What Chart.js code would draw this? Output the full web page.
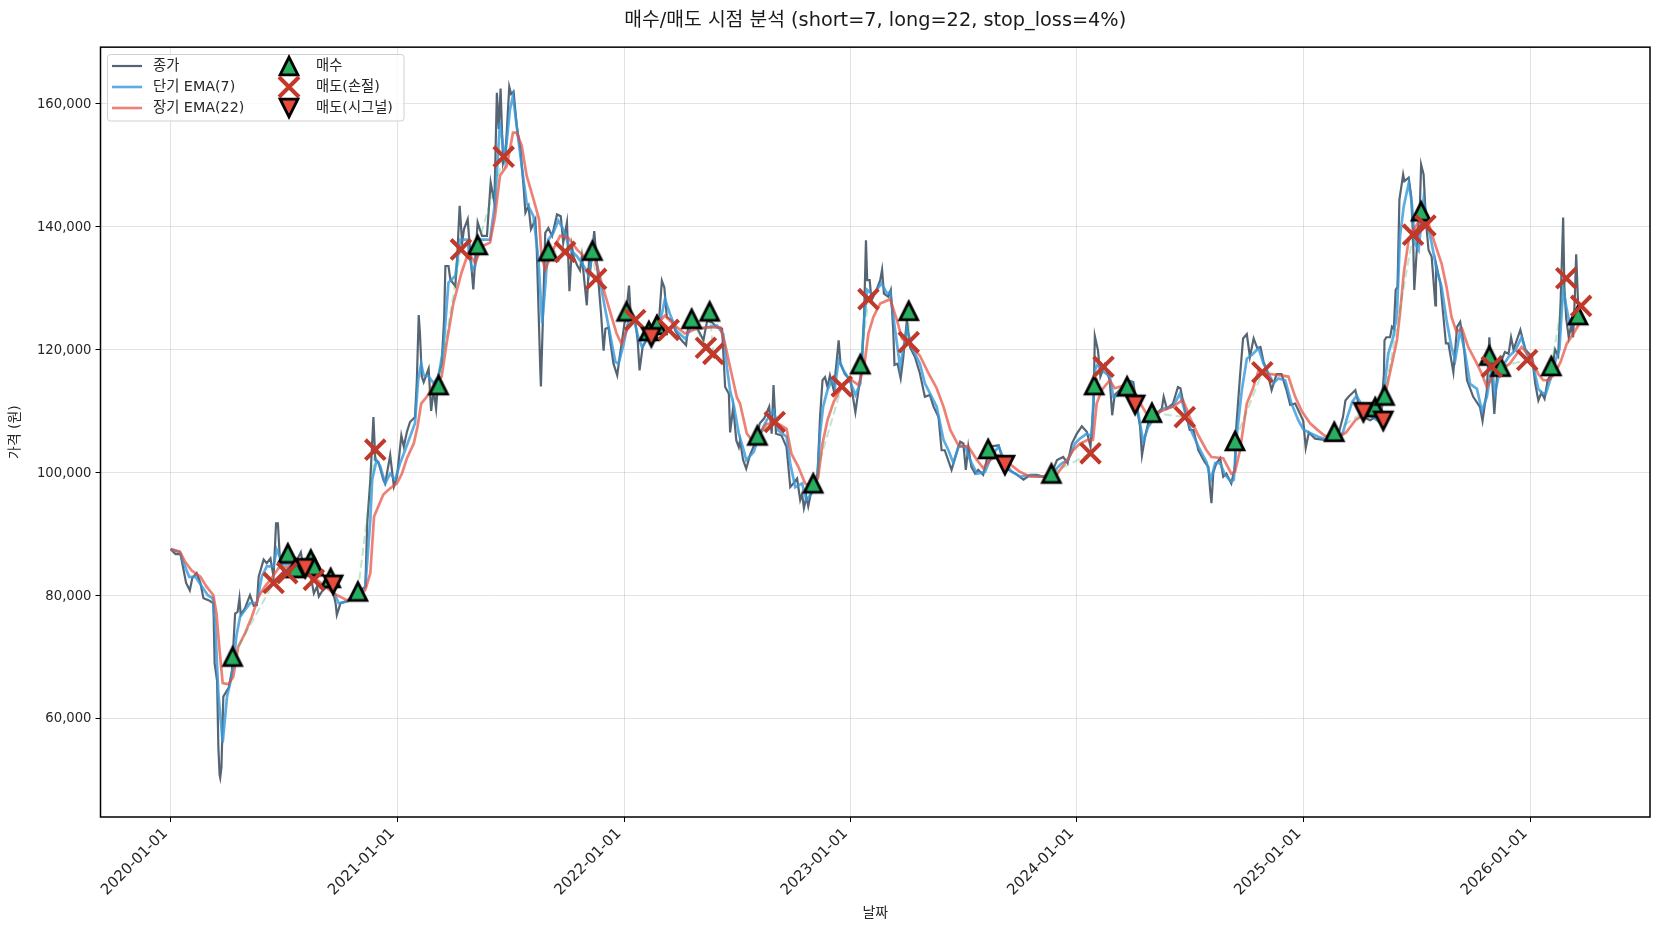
<!DOCTYPE html>
<html lang="ko">
<head>
<meta charset="utf-8">
<title>매수/매도 시점 분석</title>
<style>html,body{margin:0;padding:0;background:#fff}canvas{display:block}</style>
<script src="https://cdn.jsdelivr.net/npm/chart.js@4/dist/chart.umd.min.js"></script>
</head>
<body>
<canvas id="c" width="1660" height="930"></canvas>
<script>
// x values: days since 2020-01-01
const xTickDays = [0, 366, 731, 1096, 1461, 1827, 2192];
const xTickLabels = ['2020-01-01','2021-01-01','2022-01-01','2023-01-01','2024-01-01','2025-01-01','2026-01-01'];
const yTicks = [60000, 80000, 100000, 120000, 140000, 160000];

const closeDays = [
0,8,16,20,25,31,35,42,48,53,61,69,71,75,77,79,80,82,85,94,99,104,108,111,113,120,128,134,139,142,150,155,161,166,170,173,176,182,193,204,210,215,225,231,236,239,244,252,260,266,268,274,284,300,314,317,322,327,330,335,343,346,354,360,365,372,376,381,386,394,397,400,402,405,408,416,420,424,428,432,437,441,443,448,451,459,462,466,470,473,479,483,488,495,502,510,516,522,526,529,532,536,540,546,549,553,558,564,569,572,577,581,588,590,596,597,600,604,609,615,623,629,633,639,643,647,650,656,660,663,671,675,677,683,690,694,698,701,706,709,714,720,724,730,736,739,742,749,753,756,761,767,776,787,792,796,800,808,814,822,831,835,843,851,859,865,873,881,889,894,900,902,907,912,916,918,923,928,934,942,950,957,965,969,972,976,985,993,999,1004,1010,1015,1018,1021,1025,1028,1033,1043,1047,1051,1055,1059,1063,1069,1074,1077,1080,1087,1096,1100,1104,1109,1114,1118,1121,1123,1127,1130,1138,1144,1147,1150,1157,1161,1165,1167,1172,1177,1181,1187,1192,1200,1208,1216,1224,1230,1238,1243,1248,1259,1265,1273,1278,1282,1286,1291,1297,1302,1310,1321,1335,1343,1351,1362,1375,1386,1396,1407,1418,1429,1439,1446,1453,1461,1469,1477,1483,1488,1490,1495,1499,1506,1514,1518,1522,1530,1541,1552,1557,1563,1566,1571,1576,1587,1598,1601,1606,1616,1624,1628,1635,1643,1649,1657,1667,1673,1676,1678,1681,1686,1692,1697,1702,1710,1716,1718,1724,1729,1735,1740,1746,1752,1757,1762,1768,1775,1783,1791,1799,1805,1813,1826,1830,1835,1845,1860,1880,1890,1894,1899,1904,1910,1915,1923,1934,1942,1950,1956,1957,1960,1966,1969,1972,1975,1978,1981,1985,1987,1989,1996,2000,2003,2005,2009,2014,2016,2020,2024,2028,2033,2039,2040,2047,2052,2056,2060,2068,2074,2079,2084,2090,2100,2111,2115,2122,2126,2130,2134,2139,2151,2157,2161,2165,2176,2184,2195,2200,2205,2210,2215,2220,2226,2232,2237,2241,2245,2247,2250,2254,2258,2261,2264,2266,2270];
const closePrices = [
87500,86700,86700,84600,82000,80800,82800,83600,82000,79500,79200,78700,68900,66000,55300,50800,50300,52000,63500,65000,67800,77000,77300,79500,76800,77900,80000,78300,78400,83000,85800,85200,86000,83000,91700,91700,86300,83600,84700,85800,87000,83900,83600,80300,81400,79800,80600,81400,81400,78700,76800,78700,79000,80300,81400,91700,98800,109000,102000,101700,98800,98200,102800,97700,99300,106000,104200,106600,108200,109000,115000,125600,122600,115600,114700,116900,110000,113400,110400,116000,117700,125000,133600,133600,131400,130300,135000,143400,137400,139600,141200,135800,129800,140700,138500,138500,147200,143900,161800,155900,162500,150400,152000,162800,161600,162000,156400,152600,146600,142300,143400,139600,141200,137400,116700,114000,124300,139000,139800,138500,142000,141700,137400,140700,129500,136800,135000,133600,132900,135200,127200,135200,133400,139300,130700,125800,119800,123400,123600,121200,117700,115800,118800,123000,127400,130400,125300,124700,121500,116600,120400,121500,122600,124200,131200,130100,125300,124700,123000,121700,120700,124200,124700,123100,121500,124700,124400,123600,123400,113900,112800,106500,110600,105200,104100,105200,102000,100600,102800,104700,108000,108800,110700,106300,114200,106300,106000,104100,97600,98200,99000,95500,96500,94200,96000,94500,97000,99800,109000,115000,115500,113900,115800,113400,118300,121500,117700,116000,115000,112300,109800,113400,116600,125300,137800,131300,131300,128000,129700,131300,133000,129100,128600,129700,123200,117500,117700,115300,118500,124800,120400,118800,116100,112300,112600,110700,109000,103600,103600,100400,102500,105000,104700,100400,104200,100900,99800,100400,99600,104200,104400,101500,100400,99800,98800,99600,99600,99300,99300,102000,102500,101500,104700,106300,107500,106600,104200,111200,122200,119900,115600,117500,115000,109300,112600,113400,115000,114700,111200,107400,102800,105800,108000,109300,110400,112300,110400,111200,113900,113700,110100,106900,106900,103600,101700,100900,97000,95000,100000,101500,102300,99300,99800,98200,100900,107400,115600,121800,122500,118800,121800,120200,120400,118000,116400,113400,116000,116000,113400,111000,111200,108400,104000,106500,105500,105300,105200,109000,111700,112300,112800,113400,111200,109000,108500,109000,108000,116000,121500,122000,122000,123700,123400,129700,130200,144400,147100,148500,147400,148000,145000,138400,129700,136200,143300,150100,148500,140600,136200,135100,127200,134000,130800,125300,121000,121000,116300,123700,124500,121500,115000,112300,110600,108400,113400,122000,116000,109500,116600,119600,119300,122000,120000,123200,120000,118800,114400,111700,113000,112000,115000,116000,120000,119000,128000,141500,130000,125000,122000,124000,122000,129000,135500,125000];

const shortDays = [
0,15,20,30,40,50,60,68,72,77,84,91,96,101,106,112,120,128,139,147,155,166,171,182,203,214,225,236,252,263,271,284,300,314,322,325,332,338,346,354,362,370,378,386,394,399,404,408,416,424,432,440,448,459,467,478,486,491,499,515,523,531,539,547,552,558,566,574,585,593,599,604,609,617,625,633,644,655,666,674,682,690,698,706,717,722,730,738,746,754,760,770,784,792,797,805,816,830,840,854,865,881,891,897,902,908,916,924,928,940,950,961,972,980,993,999,1007,1018,1025,1033,1043,1047,1052,1059,1066,1071,1077,1085,1095,1104,1112,1118,1123,1133,1146,1155,1160,1168,1176,1187,1197,1208,1216,1227,1235,1246,1254,1262,1270,1281,1289,1300,1313,1324,1335,1345,1356,1370,1386,1407,1423,1437,1447,1458,1466,1477,1485,1490,1495,1504,1514,1520,1528,1538,1549,1560,1568,1576,1587,1600,1616,1627,1638,1646,1657,1670,1677,1684,1692,1700,1710,1714,1718,1727,1735,1743,1754,1762,1770,1778,1786,1797,1807,1818,1826,1835,1850,1865,1880,1890,1897,1905,1912,1920,1930,1945,1952,1958,1963,1971,1977,1982,1988,1996,2001,2006,2012,2020,2025,2033,2041,2049,2057,2065,2071,2079,2087,2095,2106,2114,2122,2130,2135,2143,2157,2168,2178,2186,2197,2205,2210,2217,2224,2232,2239,2245,2250,2256,2262,2270];
const shortPrices = [
87500,87000,85500,83000,83000,81500,80000,79500,75000,64000,56000,63500,65700,68400,73300,76500,77600,78700,78700,83000,84700,84700,87400,85000,85200,85000,84000,82000,81400,80600,78700,79000,79800,81400,92300,98800,102000,101000,98200,99800,98800,101500,103600,105800,108000,115000,117700,115800,115600,114500,115600,120400,130900,132000,137900,137900,133000,133600,137900,137900,143900,157000,151000,159000,161300,156400,149900,143900,141700,134700,124300,130300,137900,139000,141000,139600,136300,135200,133600,132000,136800,132500,128000,123800,118000,117700,120700,124700,125300,122000,120400,122000,123100,125800,128200,125800,123000,121700,123900,123400,123600,123900,122500,117000,113300,110900,106300,103600,102000,103300,106300,108500,110100,106800,105800,101400,97600,98200,95500,96500,99200,106300,110700,113400,115000,113900,118300,116600,115000,112600,114500,124800,129700,128900,130800,129100,129400,123200,117200,123400,119900,117700,114500,112300,110700,105300,103600,101500,104200,104200,102000,99800,100100,102800,104200,101700,100100,99300,99500,99300,100100,101500,102000,104700,105500,106300,105800,116600,117700,116400,115600,112300,112600,113700,114700,109600,105000,107400,109000,110400,110700,112800,109000,106600,104200,101700,98800,101500,101500,99600,98500,98800,105300,113400,118500,119100,120200,117700,116100,114500,115300,115000,111200,108500,107000,106500,105800,105300,105200,106500,109000,111500,112500,111000,109500,108500,110000,115000,119300,122000,125900,138400,143300,147100,143900,137300,136200,144400,141100,137300,133000,130200,124800,120400,118300,123200,119300,114400,113600,110000,112300,117200,112800,116600,118800,119900,122000,119300,117200,113600,113000,112800,115000,118000,120000,130000,127000,124000,124000,127000];

const longDays = [
0,15,23,34,48,58,69,74,79,84,93,101,109,120,131,142,152,163,174,193,214,236,263,284,300,314,322,328,335,343,354,365,373,381,392,398,404,413,426,437,445,456,469,480,491,502,515,523,531,542,552,558,566,574,585,594,598,604,617,628,641,655,671,684,698,711,719,727,735,749,762,781,797,813,829,848,867,886,894,902,913,918,929,940,961,980,993,1001,1012,1023,1036,1044,1051,1059,1069,1085,1098,1109,1118,1125,1133,1144,1160,1171,1179,1192,1208,1222,1235,1246,1257,1270,1286,1300,1310,1321,1335,1351,1369,1386,1407,1426,1442,1455,1466,1479,1487,1493,1501,1514,1522,1538,1557,1573,1595,1616,1632,1643,1657,1670,1678,1697,1710,1716,1724,1735,1745,1754,1767,1789,1802,1813,1824,1837,1848,1860,1880,1895,1910,1925,1945,1950,1961,1969,1977,1982,1988,1996,2004,2014,2028,2038,2049,2057,2065,2073,2082,2092,2106,2114,2122,2133,2143,2159,2178,2192,2205,2213,2222,2231,2241,2251,2261,2270];
const longPrices = [
87500,87100,85500,84000,83000,81400,80000,77000,71000,65700,65500,66700,71600,73800,76500,79800,81400,82800,84400,84700,84400,82500,80300,79200,79500,80900,83600,92800,94500,96400,97400,98200,99800,102300,104700,107400,111200,112300,114500,115600,121000,127600,132500,135800,134100,136800,137400,141700,148300,149900,155300,155300,153200,148300,144500,141200,135200,133000,136300,138500,138200,136300,134700,134700,129800,125300,122600,120900,123100,125000,123400,123900,125500,123900,122600,123400,123600,123600,120900,117100,112200,111200,106300,104900,107900,107900,107100,103000,100900,98200,97600,99200,104700,108500,111500,114500,115000,114200,117200,122600,125300,127500,128200,124800,121800,120700,119000,116100,113700,110700,106900,104400,104200,102000,100700,102000,102800,101500,100100,99300,99300,99300,101500,103600,104700,105300,105300,111200,113400,115000,113700,114200,112300,109600,109900,110700,111800,109000,106000,103600,102500,102300,99800,100100,103600,111200,113700,116600,116100,115800,115600,112300,109900,108000,107000,106000,105500,106500,108500,109500,110000,110000,114000,117700,121500,125900,132400,137900,139500,141100,140600,137300,134000,130200,125300,122900,123400,120400,117700,116000,113900,116000,116600,117700,120400,118800,116000,115000,115000,116000,118000,121000,122500,124000];

const buyDays = [100,189,201,226,231,258,302,432,495,609,680,735,771,784,840,869,946,1036,1112,1190,1318,1420,1489,1542,1582,1716,1876,1942,1957,2016,2126,2144,2226,2269];
const buyPrices = [70000,86800,84400,85800,84700,82800,80600,114200,137000,136000,136100,126200,123000,124000,125000,126200,106000,98200,117600,126300,103800,99800,114200,114000,109700,105100,106600,110600,112500,142500,119000,117200,117300,125600];
const stopDays = [166,188,231,330,468,537,636,686,749,803,863,875,974,1082,1125,1190,1483,1504,1635,1760,2003,2023,2130,2187,2250,2274];
const stopPrices = [82000,83600,82500,103700,136300,151400,135900,131500,124800,123200,120300,119300,108200,114000,128200,121200,103100,117200,109000,116300,138700,140200,117200,118300,131600,127100];
const signalDays = [217,262,775,1345,1555,1923,1955];
const signalPrices = [84400,81700,122000,101200,111000,109800,108400];

// holding periods: entry day -> exit day
const holdFrom = [100,189,226,258,302,432,495,609,680,735,771,784,840,869,946,1036,1112,1190,1318,1420,1489,1542,1582,1716,1876,1942,1957,2016,2126,2144,2226,2269];
const holdTo   = [166,217,231,262,330,468,537,636,686,749,775,803,863,875,974,1082,1125,1190,1345,1483,1504,1555,1635,1760,1923,1955,2003,2023,2130,2187,2250,2274];

const seriesLabels = ['종가','단기 EMA(7)','장기 EMA(22)','매수','매도(손절)','매도(시그널)'];
const TITLE = '매수/매도 시점 분석 (short=7, long=22, stop_loss=4%)';
const FONT = '"DejaVu Sans","Noto Sans CJK KR",sans-serif';

const zip = (xs, ys) => xs.map((x, i) => ({x, y: ys[i]}));
const holdPts = [];
holdFrom.forEach((d, i) => {
  const exitPrice = (() => {
    let k = signalDays.indexOf(holdTo[i]); if (k >= 0) return signalPrices[k];
    k = stopDays.indexOf(holdTo[i]); return stopPrices[k];
  })();
  holdPts.push({x: d, y: buyPrices[buyDays.indexOf(d)]}, {x: holdTo[i], y: exitPrice}, {x: holdTo[i], y: NaN});
});

function triCanvas(fill, down) {
  const cv = document.createElement('canvas'); cv.width = cv.height = 34;
  const g = cv.getContext('2d'); const a = 8.9, c = 17;
  g.translate(c, c); if (down) g.rotate(Math.PI);
  g.beginPath(); g.moveTo(0, -a); g.lineTo(-a, a); g.lineTo(a, a); g.closePath();
  g.fillStyle = fill; g.fill();
  g.lineJoin = 'miter'; g.miterLimit = 10; g.lineWidth = 2.8; g.strokeStyle = '#000'; g.stroke();
  return cv;
}
const buyIcon = triCanvas('#27ae60', false);
const sigIcon = triCanvas('#e74c3c', true);

const LINE_COLORS = ['rgba(44,62,80,0.8)','rgba(52,152,219,0.8)','rgba(231,76,60,0.7)'];
const STOP_COLOR = '#c0392b';

const frame = {
  id: 'frame',
  afterDatasetsDraw(ch) {
    const {ctx, chartArea: a} = ch;
    ctx.save(); ctx.strokeStyle = '#000'; ctx.lineWidth = 1.5;
    ctx.strokeRect(a.left, a.top, a.right - a.left, a.bottom - a.top);
    // legend
    const L = {x: 107.5, y: 54.5, w: 296.5, h: 66.5};
    ctx.beginPath(); ctx.roundRect(L.x, L.y, L.w, L.h, 3);
    ctx.fillStyle = 'rgba(255,255,255,0.8)'; ctx.fill();
    ctx.strokeStyle = '#d0d0d0'; ctx.lineWidth = 1; ctx.stroke();
    const rows = [66, 87, 108];
    ctx.font = '14.3px ' + FONT; ctx.textBaseline = 'middle'; ctx.textAlign = 'left';
    for (let i = 0; i < 3; i++) {
      ctx.strokeStyle = LINE_COLORS[i]; ctx.lineWidth = i ? 2.6 : 2.2;
      ctx.beginPath(); ctx.moveTo(112, rows[i]); ctx.lineTo(142, rows[i]); ctx.stroke();
      ctx.fillStyle = '#262626'; ctx.fillText(seriesLabels[i], 153, rows[i]);
      ctx.fillStyle = '#262626'; ctx.fillText(seriesLabels[i + 3], 316, rows[i]);
    }
    ctx.drawImage(buyIcon, 289 - 17, rows[0] - 17);
    ctx.strokeStyle = STOP_COLOR; ctx.lineWidth = 4;
    ctx.beginPath(); ctx.moveTo(279, rows[1] - 10); ctx.lineTo(299, rows[1] + 10);
    ctx.moveTo(299, rows[1] - 10); ctx.lineTo(279, rows[1] + 10); ctx.stroke();
    ctx.drawImage(sigIcon, 289 - 17, rows[2] - 17);
    ctx.restore();
  }
};

const lineDs = (i, xs, ys, w, ord) => ({label: seriesLabels[i], data: zip(xs, ys), showLine: true, borderColor: LINE_COLORS[i], backgroundColor: LINE_COLORS[i], borderWidth: w, pointRadius: 0, tension: 0, order: ord});

new Chart(document.getElementById('c'), {
  type: 'scatter',
  data: {datasets: [
    {label: '보유 구간', data: holdPts, showLine: true, spanGaps: false, borderColor: 'rgba(39,174,96,0.3)', borderWidth: 2, borderDash: [8, 4], pointRadius: 0, order: 7},
    lineDs(0, closeDays, closePrices, 2.2, 10),
    lineDs(1, shortDays, shortPrices, 2.7, 9),
    lineDs(2, longDays, longPrices, 2.7, 8),
    {label: seriesLabels[3], data: zip(buyDays, buyPrices), pointStyle: buyIcon, pointRadius: 12, pointHoverRadius: 12, order: 3},
    {label: seriesLabels[4], data: zip(stopDays, stopPrices), pointStyle: 'crossRot', pointRadius: 14, pointHoverRadius: 14, borderColor: STOP_COLOR, backgroundColor: STOP_COLOR, borderWidth: 4, order: 2},
    {label: seriesLabels[5], data: zip(signalDays, signalPrices), pointStyle: sigIcon, pointRadius: 12, pointHoverRadius: 12, order: 1}
  ]},
  plugins: [frame],
  options: {
    responsive: false, animation: false, devicePixelRatio: 1,
    layout: {autoPadding: false, padding: {left: 0, right: 10, top: 0, bottom: 0}},
    plugins: {
      legend: {display: false},
      tooltip: {enabled: false},
      title: {display: true, fullSize: false, text: TITLE, color: '#1a1a1a', font: {family: FONT, size: 19.3, weight: 'normal', lineHeight: 1.2}, padding: {top: 9, bottom: 15}}
    },
    scales: {
      x: {
        type: 'linear', min: -113, max: 2385,
        grid: {color: 'rgba(0,0,0,0.11)', lineWidth: 1, tickColor: '#000', tickLength: 5},
        border: {display: false},
        afterBuildTicks(ax) { ax.ticks = xTickDays.map(v => ({value: v})); },
        afterFit(ax) { ax.height = 113; },
        ticks: {
          color: '#262626', font: {family: FONT, size: 15}, minRotation: 45, maxRotation: 45, padding: 3, labelOffset: -5, autoSkip: false,
          callback: v => xTickLabels[xTickDays.indexOf(v)]
        },
        title: {display: true, text: '날짜', color: '#262626', font: {family: FONT, size: 13.9}, padding: {top: 0, bottom: 8}}
      },
      y: {
        type: 'linear', min: 43890, max: 169230,
        grid: {color: 'rgba(0,0,0,0.11)', lineWidth: 1, tickColor: '#000', tickLength: 5},
        border: {display: false},
        afterBuildTicks(ax) { ax.ticks = yTicks.map(v => ({value: v})); },
        afterFit(ax) { ax.width = 100.5; },
        ticks: {color: '#262626', font: {family: FONT, size: 13.2}, padding: 4, labelOffset: 1, callback: v => v.toLocaleString('en-US')},
        title: {display: true, text: '가격 (원)', color: '#262626', font: {family: FONT, size: 13.9}, padding: {top: 7, bottom: 0}}
      }
    }
  }
});
</script>
</body>
</html>
